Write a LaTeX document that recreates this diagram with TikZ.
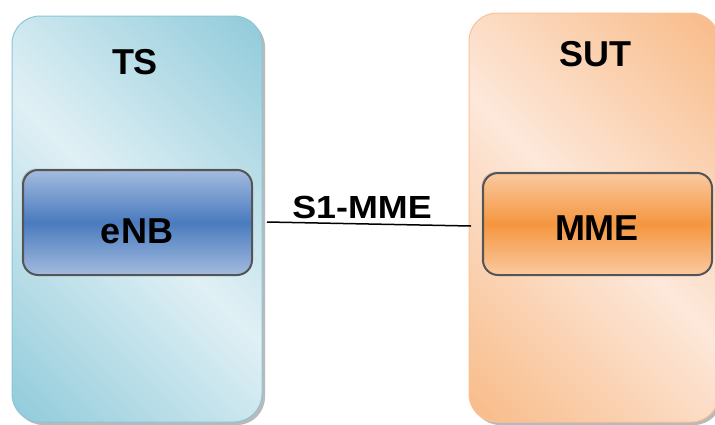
\documentclass[tikz,border=0pt]{standalone}
\usepackage{fontspec}
\setmainfont{Liberation Sans}
\usetikzlibrary{shadows}
\definecolor{tsdark}{HTML}{8FCADA}
\definecolor{tslight}{HTML}{E0F0F5}
\definecolor{tsline}{HTML}{8CC6D6}
\definecolor{sutdark}{HTML}{F8BA86}
\definecolor{sutlight}{HTML}{FDE8DA}
\definecolor{sutline}{HTML}{F9C39A}
\definecolor{enbdark}{HTML}{4A7BBE}
\definecolor{enblight}{HTML}{A3BBDF}
\definecolor{mmedark}{HTML}{F5963F}
\definecolor{mmelight}{HTML}{FAC9A0}
\definecolor{boxline}{HTML}{555555}
\pgfdeclareverticalshading{tsshade}{100bp}{color(0bp)=(tsdark); color(14bp)=(tsdark); color(50bp)=(tslight); color(86bp)=(tsdark); color(100bp)=(tsdark)}
\pgfdeclareverticalshading{sutshade}{100bp}{color(0bp)=(sutdark); color(14bp)=(sutdark); color(50bp)=(sutlight); color(86bp)=(sutdark); color(100bp)=(sutdark)}
\begin{document}
\begin{tikzpicture}[x=1pt,y=-1pt,
  panel/.style={rounded corners=28pt, draw=#1line, line width=1pt,
    shading=#1shade, shading angle=-45,
    inner sep=0pt, drop shadow={shadow xshift=3pt, shadow yshift=-3pt, fill=black!50, opacity=0.55}},
  unitbox/.style={rounded corners=15pt, draw=boxline, line width=2pt,
    top color=#1light, bottom color=#1light, middle color=#1dark,
    inner sep=0pt, minimum width=229pt,
    drop shadow={shadow xshift=-1.5pt, shadow yshift=1.5pt, fill=black!50, opacity=0.35}},
  lbl/.style={font=\bfseries\fontsize{36}{40}\selectfont, inner sep=0pt, anchor=base},
  conn/.style={line width=1.5pt, black}
]
\useasboundingbox (0,0) rectangle (715,424);
\clip (0,0) rectangle (715,424);
% panels
\node[panel=ts, minimum width=250pt, minimum height=406pt] (ts) at (137,219) {};
\node[panel=sut, minimum width=250pt, minimum height=409pt] (sut) at (594,217.5) {};
% unit boxes
\node[unitbox=enb, minimum height=105pt] (enb) at (137.5,222.5) {};
\node[unitbox=mme, minimum height=102pt] (mme) at (597.5,224) {};
% labels
\node[lbl] (tst) at (135,74) {TS};
\node[lbl] (sutt) at (595,66) {SUT};
\node[lbl] (enbt) at (137,243) {eNB};
\node[lbl] (mmet) at (597,240) {MME};
% connector
\coordinate (la) at (267,222);
\coordinate (lb) at (471,226);
\draw[conn] (la) -- (lb);
\node[lbl, font=\bfseries\fontsize{32}{36}\selectfont, xscale=1.12] (s1) at (362,218) {S1-MME};
\end{tikzpicture}
\end{document}
